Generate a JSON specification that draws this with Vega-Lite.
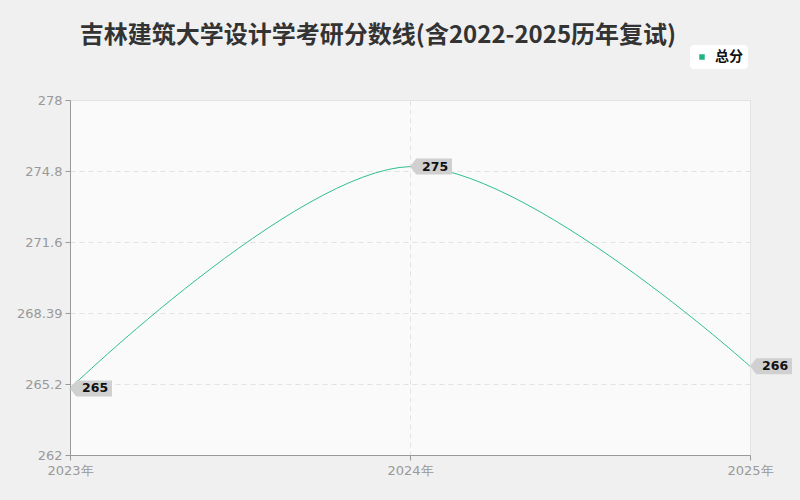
{
  "$schema": "https://vega.github.io/schema/vega-lite/v6.json",
  "width": 680,
  "height": 355,
  "autosize": "none",
  "padding": {"left": 70, "top": 100, "right": 50, "bottom": 45},
  "background": "#f0f0f0",
  "title": {
    "text": "吉林建筑大学设计学考研分数线(含2022-2025历年复试)",
    "font": "Noto Sans CJK SC",
    "fontSize": 24,
    "fontWeight": "bold",
    "color": "#333333",
    "anchor": "middle",
    "dx": -32,
    "offset": -3
  },
  "data": {
    "values": [
      {"year": "2023年", "score": 265, "series": "总分"},
      {"year": "2024年", "score": 275, "series": "总分"},
      {"year": "2025年", "score": 266, "series": "总分"}
    ]
  },
  "encoding": {
    "x": {
      "field": "year",
      "type": "ordinal",
      "scale": {"type": "point", "padding": 0},
      "axis": {
        "title": null,
        "labelAngle": 0,
        "labelColor": "#999999",
        "labelFont": "DejaVu Sans",
        "labelFontSize": 13,
        "labelPadding": 4,
        "domainColor": "#999999",
        "tickColor": "#999999",
        "tickSize": 5,
        "grid": true,
        "gridColor": "#e3e3e3",
        "gridDash": [5, 4]
      }
    },
    "y": {
      "field": "score",
      "type": "quantitative",
      "scale": {"domain": [262, 278], "nice": false, "zero": false},
      "axis": {
        "title": null,
        "values": [262, 265.2, 268.39, 271.6, 274.8, 278],
        "format": ".5~g",
        "labelColor": "#999999",
        "labelFont": "DejaVu Sans",
        "labelFontSize": 13,
        "labelPadding": 3,
        "domainColor": "#999999",
        "tickColor": "#999999",
        "tickSize": 5,
        "gridColor": "#e3e3e3",
        "gridDash": [5, 4]
      }
    }
  },
  "layer": [
    {
      "mark": {"type": "line", "interpolate": "cardinal", "strokeWidth": 1},
      "encoding": {
        "color": {
          "field": "series",
          "type": "nominal",
          "scale": {"range": ["#2fc08d"]},
          "legend": {
            "title": null,
            "orient": "none",
            "legendX": 620,
            "legendY": -55,
            "fillColor": "#ffffff",
            "cornerRadius": 4,
            "padding": 5,
            "symbolType": "square",
            "symbolSize": 30,
            "symbolFillColor": "#1fb37f",
            "symbolStrokeWidth": 0,
            "labelOffset": 6,
            "labelFont": "Noto Sans CJK SC",
            "labelFontSize": 14,
            "labelFontWeight": "bold",
            "labelColor": "#111111"
          }
        }
      }
    },
    {
      "mark": {
        "type": "point",
        "shape": "M-1,0 L-0.7,-0.38 L1,-0.38 L1,0.38 L-0.7,0.38 Z",
        "filled": true,
        "color": "#d0d0d0",
        "opacity": 1,
        "size": 1764,
        "xOffset": 21
      }
    },
    {
      "mark": {
        "type": "text",
        "align": "left",
        "baseline": "middle",
        "dx": 12,
        "font": "DejaVu Sans",
        "fontSize": 12.5,
        "fontWeight": "bold",
        "color": "#111111"
      },
      "encoding": {"text": {"field": "score", "type": "quantitative"}}
    }
  ],
  "config": {
    "view": {"fill": "#fafafa", "stroke": "#e3e3e3"}
  }
}
